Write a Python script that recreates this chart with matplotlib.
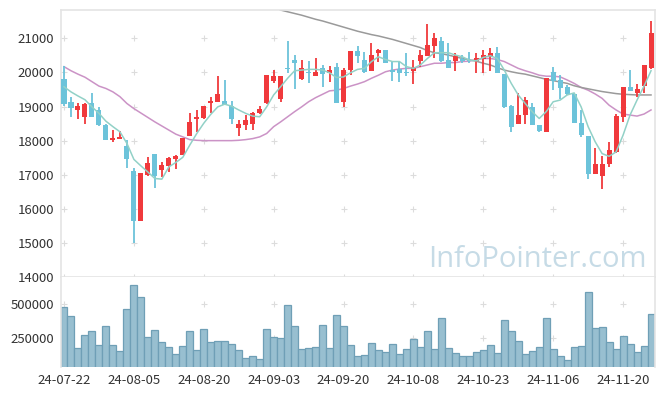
import numpy as np
import matplotlib
matplotlib.use('Agg')
import matplotlib.pyplot as plt

plt.rcParams['font.family'] = ['Noto Sans CJK KR', 'DejaVu Sans']

dates = ['24-07-22', '24-07-23', '24-07-24', '24-07-25', '24-07-26', '24-07-29', '24-07-30', '24-07-31',
         '24-08-01', '24-08-02', '24-08-05', '24-08-06', '24-08-07', '24-08-08', '24-08-09', '24-08-12',
         '24-08-13', '24-08-14', '24-08-16', '24-08-19', '24-08-20', '24-08-21', '24-08-22', '24-08-23',
         '24-08-26', '24-08-27', '24-08-28', '24-08-29', '24-08-30', '24-09-02', '24-09-03', '24-09-04',
         '24-09-05', '24-09-06', '24-09-09', '24-09-10', '24-09-11', '24-09-12', '24-09-13', '24-09-19',
         '24-09-20', '24-09-23', '24-09-24', '24-09-25', '24-09-26', '24-09-27', '24-09-30', '24-10-02',
         '24-10-04', '24-10-07', '24-10-08', '24-10-10', '24-10-11', '24-10-14', '24-10-15', '24-10-16',
         '24-10-17', '24-10-18', '24-10-21', '24-10-22', '24-10-23', '24-10-24', '24-10-25', '24-10-28',
         '24-10-29', '24-10-30', '24-10-31', '24-11-01', '24-11-04', '24-11-05', '24-11-06', '24-11-07',
         '24-11-08', '24-11-11', '24-11-12', '24-11-13', '24-11-14', '24-11-15', '24-11-18', '24-11-19',
         '24-11-20', '24-11-21', '24-11-22', '24-11-25', '24-11-26']

opens = [19800, 19130, 18900, 18700, 19090, 18900, 18460, 18030, 18050, 17840,
         17100, 15650, 17000, 17600, 17140, 17260, 17460, 17590, 18150, 18620,
         18650, 19110, 19140, 19150, 19010, 18380, 18460, 18500, 18800, 19090,
         19760, 19210, 20140, 20360, 19800, 20010, 19900, 20120, 19970, 20150,
         19140, 20070, 20630, 20360, 20050, 20560, 20660, 20070, 20100, 20020,
         20050, 20330, 20490, 20790, 20920, 20360, 20330, 20380, 20360, 20340,
         20390, 20440, 20560, 19950, 19020, 18480, 18750, 18990, 18460, 18260,
         20020, 19780, 19560, 19370, 18530, 18130, 17010, 16970, 17300, 17670,
         18700, 19560, 19400, 19600, 20120]
highs = [20200, 19270, 19110, 19110, 19390, 18990, 18480, 18310, 18290, 18020,
         17200, 17060, 17510, 17600, 17360, 17530, 17570, 18080, 18800, 18900,
         19010, 19270, 19910, 19780, 19160, 18600, 18750, 18850, 19010, 19920,
         20070, 19910, 20920, 20500, 20360, 20340, 20410, 20220, 20200, 20270,
         20120, 20630, 20780, 20610, 20850, 20680, 20660, 20320, 20320, 20560,
         20360, 20660, 21410, 21150, 21050, 20850, 20560, 20510, 20610, 20580,
         20660, 20710, 20760, 19950, 19040, 19400, 19290, 19090, 18460, 19850,
         20170, 19920, 19630, 19390, 18900, 18130, 17770, 17550, 17970, 18780,
         19580, 20070, 19660, 20220, 21510]
lows = [19010, 18700, 18630, 18480, 18680, 18440, 18020, 17970, 18050, 17210,
        15010, 15650, 16970, 16620, 16940, 17080, 17180, 17570, 18130, 18240,
        18630, 18800, 19120, 19040, 18500, 18130, 18310, 18310, 18780, 19070,
        19700, 19130, 19970, 19500, 19780, 19700, 19900, 19560, 19730, 19090,
        18990, 19920, 20290, 19990, 20050, 20320, 20290, 19750, 19730, 19900,
        19650, 20170, 20480, 20410, 20300, 20120, 20050, 20270, 20270, 19990,
        19990, 20050, 19990, 18970, 18260, 18480, 18500, 18460, 18240, 18260,
        19480, 19210, 19340, 18520, 18110, 16860, 17010, 16590, 17230, 17640,
        18550, 19460, 19290, 19390, 20090]
closes = [19080, 18960, 19010, 19070, 18700, 18460, 18020, 18080, 18110, 17450,
          15650, 17040, 17340, 16970, 17280, 17480, 17550, 18080, 18540, 18680,
          19010, 19170, 19360, 19040, 18620, 18480, 18600, 18800, 18920, 19920,
          19910, 19910, 20110, 20270, 20120, 19970, 20020, 19950, 20070, 19110,
          20070, 20630, 20490, 20000, 20510, 20660, 20290, 20000, 19990, 19990,
          20150, 20510, 20800, 21000, 20340, 20140, 20480, 20340, 20340, 20430,
          20510, 20560, 19990, 18990, 18410, 18750, 19190, 18460, 18290, 19850,
          19750, 19530, 19360, 18520, 18160, 17010, 17310, 17310, 17720, 18720,
          19560, 19460, 19510, 20220, 21150]

ma5 = [19580, 19430, 19310, 19200, 18990, 18800, 18570, 18410, 18260, 17920,
       17450, 17260, 17080, 16890, 16870, 17230, 17360, 17510, 17870, 18210,
       18510, 18770, 18990, 19070, 19010, 18900, 18800, 18720, 18700, 18990,
       19340, 19580, 19830, 20050, 20070, 20090, 20090, 20070, 19990, 19850,
       19870, 19990, 20090, 20120, 20320, 20460, 20380, 20320, 20320, 20170,
       20120, 20220, 20410, 20580, 20580, 20580, 20510, 20460, 20360, 20340,
       20440, 20490, 20410, 20070, 19680, 19340, 19090, 18850, 18650, 18850,
       19140, 19190, 19340, 19400, 18990, 18410, 17970, 17620, 17540, 17670,
       18160, 18750, 19190, 19600, 20050]
ma20 = [20170, 20050, 19950, 19860, 19730, 19600, 19530, 19430, 19290, 19090,
        18940, 18810, 18680, 18550, 18430, 18310, 18190, 18110, 18030, 18010,
        18000, 18000, 18000, 18000, 18000, 18010, 18030, 18060, 18110, 18210,
        18410, 18550, 18700, 18850, 18990, 19140, 19260, 19360, 19460, 19480,
        19530, 19600, 19660, 19730, 19830, 19920, 20020, 20070, 20100, 20120,
        20120, 20170, 20220, 20270, 20270, 20290, 20290, 20320, 20330, 20380,
        20410, 20410, 20380, 20320, 20220, 20120, 20050, 19990, 19920, 19890,
        19890, 19870, 19780, 19680, 19560, 19480, 19370, 19240, 19040, 18900,
        18780, 18750, 18720, 18780, 18900]
ma60 = [np.nan] * 30 + [
        21930, 21830, 21780, 21730, 21680, 21620, 21560, 21510, 21450, 21390,
        21330, 21270, 21210, 21160, 21110, 21070, 21020, 20970, 20910, 20850,
        20790, 20730, 20640, 20580, 20550, 20510, 20460, 20410, 20370, 20330,
        20270, 20220, 20140, 20070, 20020, 19980, 19950, 19900, 19850, 19800,
        19760, 19720, 19680, 19610, 19560, 19520, 19480, 19440, 19410, 19380,
        19360, 19350, 19340, 19340, 19340]

volumes = [482000, 415000, 175000, 272000, 297000, 197000, 340000, 197000, 147000, 468000,
           643000, 558000, 257000, 310000, 220000, 182000, 130000, 190000, 302000, 160000,
           317000, 220000, 227000, 227000, 205000, 160000, 100000, 115000, 92000, 317000,
           257000, 250000, 498000, 340000, 167000, 175000, 182000, 347000, 175000, 423000,
           340000, 197000, 115000, 122000, 212000, 160000, 145000, 205000, 130000, 167000,
           242000, 182000, 302000, 167000, 400000, 175000, 137000, 115000, 115000, 145000,
           160000, 197000, 137000, 385000, 302000, 227000, 130000, 152000, 182000, 400000,
           167000, 115000, 85000, 182000, 190000, 595000, 325000, 332000, 220000, 167000,
           265000, 205000, 145000, 190000, 430000]

price_ticks = [14000, 15000, 16000, 17000, 18000, 19000, 20000, 21000]
vol_ticks = [250000, 500000]

up_color = '#f0393c'
down_color = '#6cc3da'
frame_color = '#e4e4e4'
label_color = '#333333'

x = np.arange(len(dates))
o = np.array(opens)
c = np.array(closes)
up = c >= o
colors = np.where(up, up_color, down_color)

fig = plt.figure(figsize=(6.65, 3.96), dpi=100)
ax = fig.add_axes([61/665, 1-277/396, 594/665, 267/396])
axv = fig.add_axes([61/665, 1-367/396, 594/665, 90/396], sharex=ax)

# plus-sign grid markers
gx, gy = np.meshgrid(x[::10], price_ticks)
ax.scatter(gx.ravel(), gy.ravel(), marker='+', s=14, color='#dcdcdc', linewidths=0.8, zorder=1)
gx, gy = np.meshgrid(x[::10], vol_ticks)
axv.scatter(gx.ravel(), gy.ravel(), marker='+', s=14, color='#dcdcdc', linewidths=0.8, zorder=1)

ax.text(0.9865, 0.037, 'InfoPointer.com', transform=ax.transAxes, ha='right', va='baseline',
        fontsize=21, color='#c6dbe6', family=['Open Sans', 'DejaVu Sans'], zorder=1)

# candles
ax.vlines(x, lows, highs, colors=colors, linewidth=1.3, zorder=3)
body = np.maximum(np.abs(c - o), 30)
ax.bar(x, body, bottom=np.minimum(o, c), width=0.72, color=colors, linewidth=0, zorder=4)

ax.plot(x, ma5, color='#92d1c7', lw=1.1, zorder=5)
ax.plot(x, ma20, color='#cb93c6', lw=1.1, zorder=2)
ax.plot(x, ma60, color='#9a9a9a', lw=1.1, zorder=2)

axv.bar(x, volumes, width=1.0, color='#98bfd0', edgecolor='#6f9fb6', linewidth=0.9, zorder=2)

ax.set_xlim(-0.43, 84.57)
ax.set_ylim(14000, 21832)
axv.set_ylim(29000, 705000)

ax.set_yticks(price_ticks)
ax.set_yticklabels([str(v) for v in price_ticks])
axv.set_yticks(vol_ticks)
axv.set_yticklabels([str(v) for v in vol_ticks])
axv.set_xticks(x[::10])
axv.set_xticklabels(dates[::10])

for a in (ax, axv):
    a.tick_params(length=0, labelsize=9.5, labelcolor=label_color, pad=5)
    for s in a.spines.values():
        s.set_color(frame_color)
        s.set_linewidth(1.2)
ax.tick_params(axis='x', labelbottom=False)
axv.spines['top'].set_visible(False)
axv.spines['bottom'].set_visible(False)

fig.savefig('out.png', dpi=100)
